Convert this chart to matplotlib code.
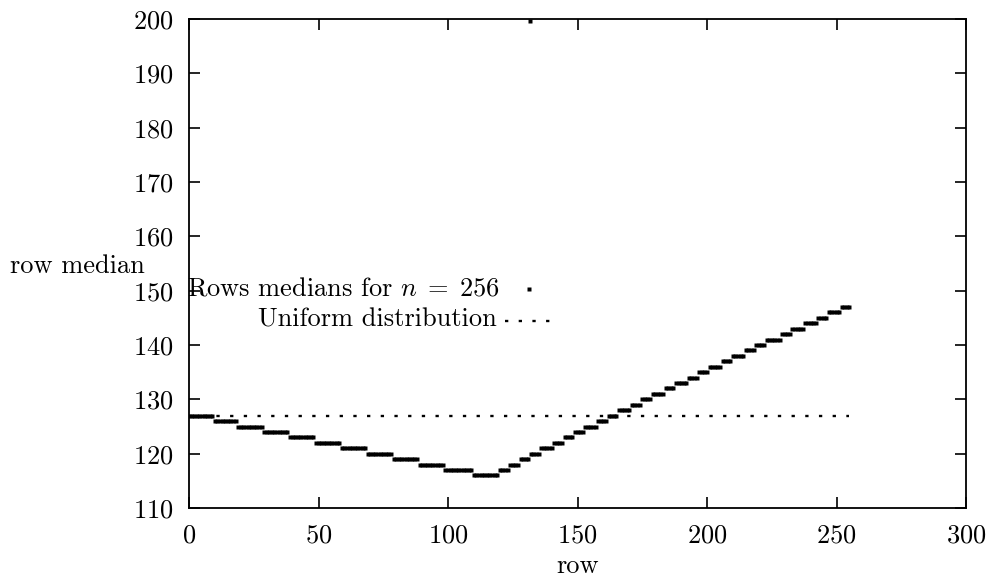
import numpy as np
import matplotlib
matplotlib.use("Agg")
import matplotlib.pyplot as plt

plt.rcParams['font.family'] = 'serif'
plt.rcParams['font.serif'] = ['cmr10', 'DejaVu Serif']
plt.rcParams['mathtext.fontset'] = 'cm'
plt.rcParams['axes.formatter.use_mathtext'] = True

# Row medians: step values and the first row of each step
step_values = [127, 126, 125, 124, 123, 122, 121, 120, 119, 118, 117, 116,
               117, 118, 119, 120, 121, 122, 123, 124, 125, 126, 127, 128,
               129, 130, 131, 132, 133, 134, 135, 136, 137, 138, 139, 140,
               141, 142, 143, 144, 145, 146, 147]
step_starts = [0, 10, 19, 29, 39, 49, 59, 69, 79, 89, 99, 110,
               120, 124, 128, 132, 136, 141, 145, 149, 153, 158, 162, 166,
               171, 175, 179, 184, 188, 193, 197, 201, 206, 210, 215, 219,
               223, 229, 233, 238, 243, 247, 252]
n_rows = 256
outlier_rows = [131.5]
outlier_values = [199.6]

uniform_rows = [0, 255]
uniform_values = [127, 127]

x_ticks = [0, 50, 100, 150, 200, 250, 300]
y_ticks = [110, 120, 130, 140, 150, 160, 170, 180, 190, 200]

# expand steps into one value per row
rows = np.arange(n_rows)
medians = np.empty(n_rows)
bounds = step_starts + [n_rows]
for v, a, b in zip(step_values, bounds[:-1], bounds[1:]):
    medians[a:b] = v

fig = plt.figure(figsize=(9.89, 5.78), dpi=100)
W, H = 989, 578
L, R, T, B = 189, 966, 19, 508
ax = fig.add_axes([L / W, 1 - B / H, (R - L) / W, (B - T) / H])

FS = 19
MS = 3.5

ax.plot(uniform_rows, uniform_values, color='black', lw=1.7,
        linestyle=(0, (1.4, 4.4)), dash_capstyle='butt', zorder=2)
ax.plot(rows, medians, linestyle='none', marker='s', ms=MS,
        mec='none', color='black', zorder=3)
ax.plot(outlier_rows, outlier_values, linestyle='none', marker='s', ms=MS,
        mec='none', color='black', zorder=3, clip_on=True)

ax.set_xlim(0, 300)
ax.set_ylim(110, 200)
ax.set_xticks(x_ticks)
ax.set_yticks(y_ticks)
ax.tick_params(direction='in', length=8, width=1.2, top=True, right=True,
               labelsize=FS, pad=11)
for s in ax.spines.values():
    s.set_linewidth(1.3)

ax.set_xlabel('row', fontsize=FS, labelpad=5)
ax.set_ylabel('row median', fontsize=FS, rotation=0, ha='right', va='center')
ax.yaxis.set_label_coords((145 - L) / (R - L), (B - 266) / (B - T))

# key
def ax_x(px):
    return (px - L) / (R - L)

def ax_y(py):
    return (B - py) / (B - T)

ax.text(ax_x(500), ax_y(289), 'Rows medians for $n\\;=\\;256$', transform=ax.transAxes,
        ha='right', va='center', fontsize=FS)
ax.plot([ax_x(529)], [ax_y(289)], transform=ax.transAxes, marker='s', ms=MS,
        mec='none', color='black', linestyle='none', clip_on=False)
ax.text(ax_x(497), ax_y(320), 'Uniform distribution', transform=ax.transAxes,
        ha='right', va='center', fontsize=FS)
ax.plot([ax_x(505), ax_x(556)], [ax_y(321), ax_y(321)], transform=ax.transAxes,
        color='black', lw=1.7, linestyle=(0, (1.4, 4.4)), dash_capstyle='butt',
        clip_on=False)

fig.savefig('out.png', dpi=100)
